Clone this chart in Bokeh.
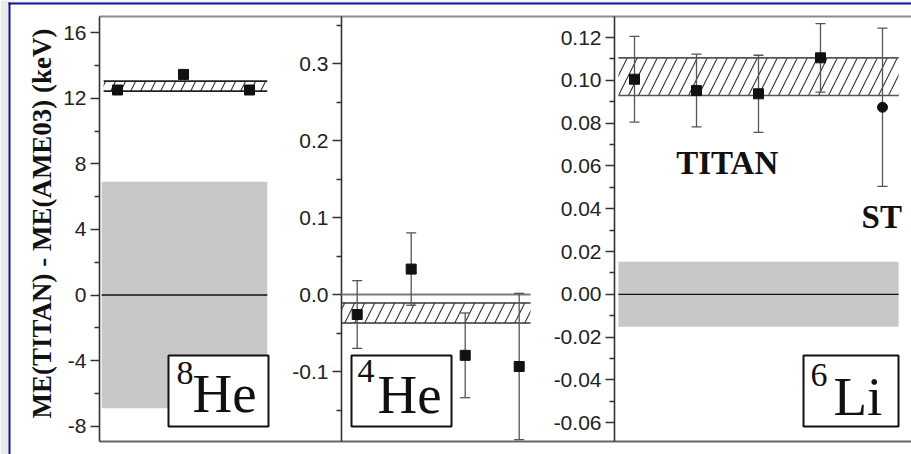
import numpy as np
from bokeh.plotting import figure
from bokeh.models import Range1d, LinearAxis, FixedTicker, PrintfTickFormatter
from bokeh.core.properties import value
from bokeh.embed import file_html
from bokeh.resources import INLINE

W, H = 911, 454

# ---- 8He : ME(TITAN) - ME(AME03) in keV, per run ----
he8_run = [1, 2, 3]
he8_dme = [12.5, 13.45, 12.5]
he8_titan_lo, he8_titan_hi = 12.43, 13.04
he8_ame_err = 6.9
he8_ticks = [-8, -4, 0, 4, 8, 12, 16]
he8_minor = [-6, -2, 2, 6, 10, 14]

# ---- 4He ----
he4_run = [1, 2, 3, 4]
he4_dme = [-0.026, 0.033, -0.079, -0.0935]
he4_err = [0.044, 0.047, 0.055, 0.095]
he4_titan_lo, he4_titan_hi = -0.037, -0.011
he4_ticks = [-0.1, 0.0, 0.1, 0.2, 0.3]
he4_minor = [-0.15, -0.05, 0.05, 0.15, 0.25, 0.35]

# ---- 6Li ----
li6_run = [1, 2, 3, 4]
li6_dme = [0.1005, 0.0952, 0.0937, 0.1105]
li6_err = [0.020, 0.017, 0.018, 0.016]
li6_st_run = [5]
li6_st_dme = [0.0874]
li6_st_err = [0.037]
li6_titan_lo, li6_titan_hi = 0.0929, 0.1105
li6_ame_err = 0.0152
li6_ticks = [-0.06, -0.04, -0.02, 0.0, 0.02, 0.04, 0.06, 0.08, 0.10, 0.12]
li6_minor = [-0.05, -0.03, -0.01, 0.01, 0.03, 0.05, 0.07, 0.09, 0.11]

# panel geometry on the canvas: pixel of run 1, px per run,
# pixel of zero, px per unit, and x pixel of the panel's axis
panels = {
    "he8": dict(x1=117, sx=66, y0=294.5, sy=16.4, axis=99),
    "he4": dict(x1=356.7, sx=54, y0=294, sy=770, axis=341),
    "li6": dict(x1=634, sx=62, y0=293.8, sy=2140, axis=614),
}
TOP, BOTTOM = 16, 441

p = figure(width=W, height=H, x_range=Range1d(0, W), y_range=Range1d(H, 0),
           x_axis_type=None, y_axis_type=None, toolbar_location=None,
           output_backend="svg", min_border=0, outline_line_color=None,
           background_fill_color="white", border_fill_color="white")

for name, g in panels.items():
    p.extra_x_ranges[name] = Range1d(1 - g["x1"] / g["sx"], 1 + (W - g["x1"]) / g["sx"])
    p.extra_y_ranges[name] = Range1d(-(H - g["y0"]) / g["sy"], g["y0"] / g["sy"])

# slide frame: grey margin and blue rule on the left and top
p.quad(left=[0, 0], right=[W, 8], bottom=[2, H], top=[0, 0],
       fill_color="#EAEAEA", line_color=None)
p.quad(left=[8, 8], right=[10, W], bottom=[H, 4], top=[2, 2],
       fill_color="#13139A", line_color=None)

# top and bottom frame rules
p.segment(x0=[99, 99], x1=[W, W], y0=[TOP, BOTTOM], y1=[TOP, BOTTOM],
          line_color=["#8C8C8C", "#666666"], line_width=1.8)


def add_axis(name, ticks, minor, fmt):
    g = panels[name]
    ax = LinearAxis(y_range_name=name, fixed_location=g["axis"],
                    ticker=FixedTicker(ticks=ticks, minor_ticks=minor),
                    formatter=PrintfTickFormatter(format=fmt))
    ax.axis_line_color = None
    ax.major_tick_out = 9
    ax.major_tick_in = 0
    ax.minor_tick_out = 5
    ax.minor_tick_in = 0
    ax.major_tick_line_color = "#333333"
    ax.minor_tick_line_color = "#333333"
    ax.major_tick_line_width = 1.3
    ax.minor_tick_line_width = 1.3
    ax.major_label_standoff = 4
    ax.major_label_text_font = "Liberation Sans"
    ax.major_label_text_font_size = "21px"
    ax.major_label_text_color = "#222222"
    p.add_layout(ax, "left")
    p.segment(x0=[g["axis"]], x1=[g["axis"]], y0=[TOP], y1=[BOTTOM],
              line_color="#333333", line_width=1.6)


add_axis("he8", he8_ticks, he8_minor, "%d")
add_axis("he4", he4_ticks, he4_minor, "%.1f")
add_axis("li6", li6_ticks, li6_minor, "%.2f")


def ame_band(name, err, left, right):
    p.quad(left=[left], right=[right], bottom=[-err], top=[err],
           fill_color="#C8C8CA", line_color=None,
           x_range_name=name, y_range_name=name)
    p.segment(x0=[left], x1=[right], y0=[0], y1=[0], line_color="#111111",
              line_width=1.3, x_range_name=name, y_range_name=name)


def titan_band(name, lo, hi, left, right, edge):
    p.quad(left=[left], right=[right], bottom=[lo], top=[hi],
           fill_color="white", fill_alpha=0, line_color=None,
           hatch_pattern="/", hatch_color="#333333", hatch_scale=20,
           hatch_weight=1.1, x_range_name=name, y_range_name=name)
    p.segment(x0=[left, left], x1=[right, right], y0=[lo, hi], y1=[lo, hi],
              line_color=edge, line_width=1.6, x_range_name=name, y_range_name=name)


def points(name, run, dme, err=None, marker="square"):
    kw = dict(x_range_name=name, y_range_name=name)
    if err is not None:
        y = np.asarray(dme)
        e = np.asarray(err)
        p.segment(x0=run, x1=run, y0=y - e, y1=y + e, line_color="#555555",
                  line_width=1.3, **kw)
        p.scatter(run + run, list(y - e) + list(y + e), marker="dash", size=10,
                  line_color="#555555", line_width=1.3, **kw)
    p.scatter(run, dme, marker=marker, size=10, fill_color="#111111",
              line_color="#111111", **kw)


# 8He
ame_band("he8", he8_ame_err, 0.76, 3.27)
titan_band("he8", he8_titan_lo, he8_titan_hi, 0.79, 3.27, "#222222")
points("he8", he8_run, he8_dme)

# 4He
p.segment(x0=[0.69], x1=[4.21], y0=[0], y1=[0], line_color="#7A7A7A",
          line_width=2, x_range_name="he4", y_range_name="he4")
titan_band("he4", he4_titan_lo, he4_titan_hi, 0.72, 4.21, "#333333")
points("he4", he4_run, he4_dme, he4_err)

# 6Li
ame_band("li6", li6_ame_err, 0.74, 5.26)
titan_band("li6", li6_titan_lo, li6_titan_hi, 0.74, 5.26, "#555555")
points("li6", li6_run, li6_dme, li6_err)
points("li6", li6_st_run, li6_st_dme, li6_st_err, marker="circle")


def serif_text(xs, baselines, texts, size, **kw):
    # the text glyph's alphabetic baseline sits ~0.37 em low; lift it
    ys = [b - 0.37 * size for b in baselines]
    p.text(x=xs, y=ys, text=texts, text_font=value("Liberation Serif"),
           text_font_size=value(f"{size}px"), text_color="#111111",
           text_baseline="alphabetic", **kw)


# isotope labels in boxes
p.quad(left=[168, 351, 803], right=[268, 451, 898], top=[355, 355, 355],
       bottom=[426, 426, 426], fill_color="white", line_color="#111111", line_width=2)
serif_text([176, 357, 810], [385, 383, 387], ["8", "4", "6"], 34, text_align="left")
serif_text([192, 377, 833], [413, 414, 416.5], ["He", "He", "Li"], 55, text_align="left")

# measurement labels
serif_text([726.7, 881.3], [175, 228.3], ["TITAN", "ST"], 33,
           text_align="center", text_font_style="bold")

# y axis title
p.text(x=[41], y=[223], text=["ME(TITAN) - ME(AME03) (keV)"], angle=np.pi / 2,
       text_font=value("Liberation Serif"), text_font_size=value("27px"),
       text_font_style="bold", text_color="#111111", text_align="center",
       text_baseline="middle")

open("out.html", "w").write(file_html(p, INLINE))
